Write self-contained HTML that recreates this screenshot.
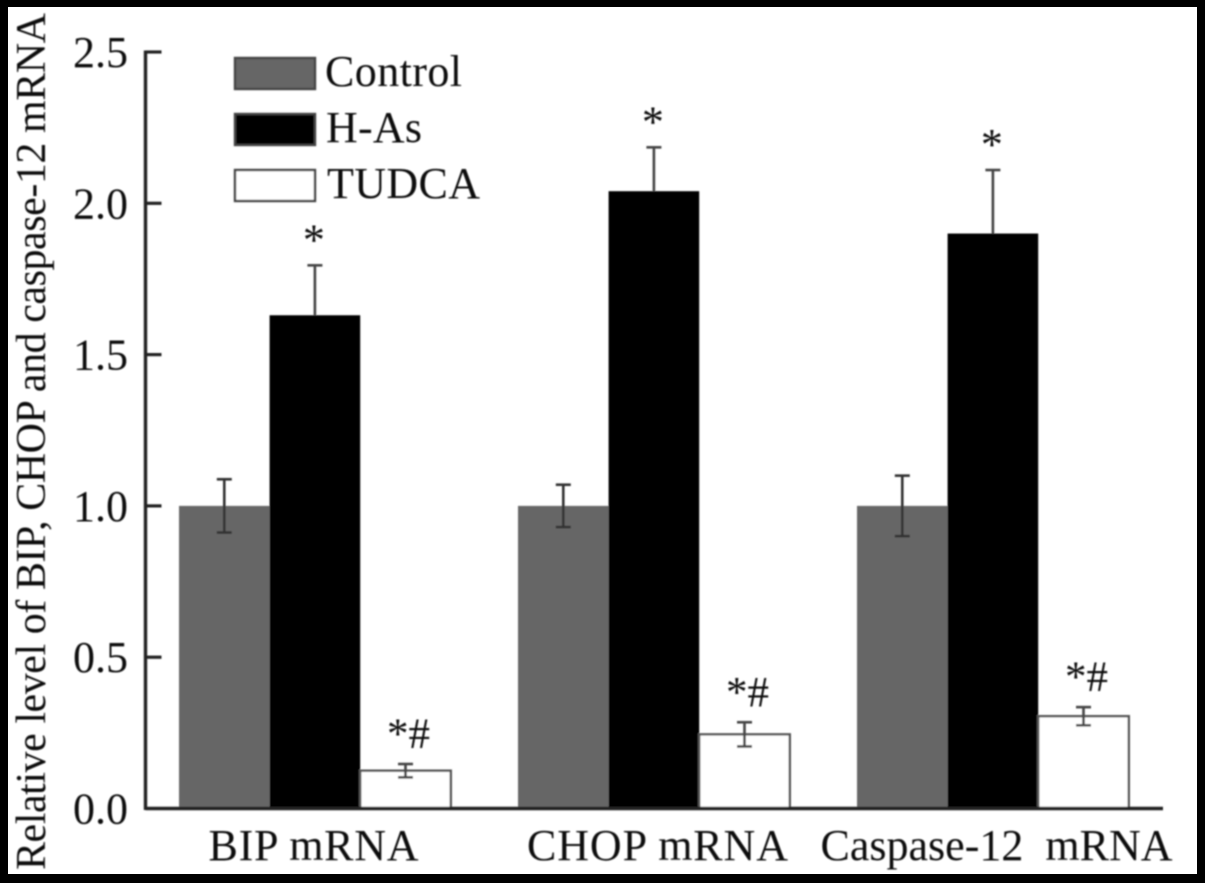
<!DOCTYPE html>
<html>
<head>
<meta charset="utf-8">
<style>
html,body{margin:0;padding:0;background:#000;width:1205px;height:883px;overflow:hidden}
svg{display:block}
text{font-family:"Liberation Serif",serif;fill:#111}
</style>
</head>
<body>
<svg id="chart" xmlns="http://www.w3.org/2000/svg" width="1205" height="883" viewBox="0 0 1205 883">
  <defs><filter id="soft" x="-2%" y="-2%" width="104%" height="104%"><feGaussianBlur stdDeviation="0.7"/></filter></defs>
  <rect x="0" y="0" width="1205" height="883" fill="#000"/>
  <rect x="8" y="7" width="1189" height="867" fill="#fff"/>
  <g id="root" filter="url(#soft)"></g>
</svg>
<script>
const categories = ['BIP mRNA', 'CHOP mRNA', 'Caspase-12  mRNA'];
const seriesNames = ['Control', 'H-As', 'TUDCA'];
const controlValues = [1.0, 1.0, 1.0];
const controlErrors = [0.088, 0.07, 0.10];
const hasValues = [1.63, 2.04, 1.90];
const hasErrors = [0.165, 0.145, 0.21];
const tudcaValues = [0.125, 0.245, 0.305];
const tudcaErrors = [0.022, 0.04, 0.03];
const yTicks = [0, 0.5, 1.0, 1.5, 2.0, 2.5];
const yTickLabels = ['0.0', '0.5', '1.0', '1.5', '2.0', '2.5'];
const hasMarks = ['*', '*', '*'];
const tudcaMarks = ['*#', '*#', '*#'];

const NS = 'http://www.w3.org/2000/svg';
const root = document.getElementById('root');
const y0 = 808.5, yPerUnit = 302.6;
const axisLeft = 145.5, axisRight = 1163;
const groupStart = 179, groupStep = 339, barWidth = 90.6;
const y = v => y0 - v * yPerUnit;
const barX = (g, s) => groupStart + g * groupStep + s * barWidth;

function make(tag, attrs, text) {
  const el = document.createElementNS(NS, tag);
  for (const k in attrs) el.setAttribute(k, attrs[k]);
  if (text !== undefined) el.textContent = text;
  root.appendChild(el);
  return el;
}

const series = [
  { key: 'control', values: controlValues, errors: controlErrors, fill: '#666666', stroke: 'none', err: '#333' },
  { key: 'h-as', values: hasValues, errors: hasErrors, fill: '#000000', stroke: 'none', err: '#444' },
  { key: 'tudca', values: tudcaValues, errors: tudcaErrors, fill: '#ffffff', stroke: '#555', err: '#444' }
];

series.forEach((s, si) => {
  s.values.forEach((v, g) => {
    const x = barX(g, si);
    const bar = make('rect', {
      x: x, y: y(v), width: barWidth, height: y0 - y(v),
      fill: s.fill, stroke: s.stroke, 'stroke-width': si === 2 ? 2.4 : 0
    });
    
    
  });
});

series.forEach((s, si) => {
  s.values.forEach((v, g) => {
    const cx = barX(g, si) + barWidth / 2;
    const e = s.errors[g];
    const stem = make('line', { x1: cx, x2: cx, y1: y(v + e), y2: y(si === 1 ? v : v - e), stroke: s.err, 'stroke-width': 2.6 });
    
    
    const capTop = make('line', { x1: cx - 7.5, x2: cx + 7.5, y1: y(v + e), y2: y(v + e), stroke: s.err, 'stroke-width': 2.6 });
    
    
    if (si !== 1) {
      const capBottom = make('line', { x1: cx - 7.5, x2: cx + 7.5, y1: y(v - e), y2: y(v - e), stroke: s.err, 'stroke-width': 2.6 });
      
      
    }
  });
});

hasValues.forEach((v, g) => {
  const t = make('text', { x: barX(g, 1) + barWidth / 2 - 1, y: y(v + hasErrors[g]) - 11, 'text-anchor': 'middle', 'font-size': 44 }, hasMarks[g]);
  
  
});
tudcaValues.forEach((v, g) => {
  const t = make('text', { x: barX(g, 2) + barWidth / 2 + 3, y: y(v + tudcaErrors[g]) - 16, 'text-anchor': 'middle', 'font-size': 43 }, tudcaMarks[g]);
  
  
});

const yAxis = make('line', { x1: axisLeft, x2: axisLeft, y1: y(2.5) - 1.5, y2: y0 + 1.5, stroke: '#222', 'stroke-width': 3.4 });


const xAxis = make('line', { x1: axisLeft, x2: axisRight, y1: y0, y2: y0, stroke: '#222', 'stroke-width': 3.4 });



yTicks.forEach((v, i) => {
  if (v > 0) {
    const tick = make('line', { x1: axisLeft, x2: axisLeft + 16, y1: y(v), y2: y(v), stroke: '#222', 'stroke-width': 3.2 });
    
    
  }
  const label = make('text', { x: 128, y: y(v) + 15, 'text-anchor': 'end', 'font-size': 44 }, yTickLabels[i]);
  
  
});

const catCenters = [313.5, 657.5, 996.5];
const catLengths = [210, 261, 352];
categories.forEach((c, g) => {
  const t = make('text', {
    x: catCenters[g], y: 860, 'text-anchor': 'middle', 'font-size': 44,
    textLength: catLengths[g], lengthAdjust: 'spacing', 'xml:space': 'preserve'
  }, c);
  t.setAttribute('style', 'white-space:pre');
  
  
});

const yTitle = make('text', {
  transform: 'translate(45,870) rotate(-90)', x: 0, y: 0, 'font-size': 42,
  textLength: 857, lengthAdjust: 'spacing'
}, 'Relative level of BIP, CHOP and caspase-12 mRNA');



const legendFills = ['#666666', '#000000', '#ffffff'];
const legendTops = [58, 114, 170];
const legendTextX = [325, 326, 327];
const legendLengths = [137, 96, 153];
seriesNames.forEach((n, i) => {
  const sw = make('rect', { x: 235, y: legendTops[i], width: 80, height: 31, fill: legendFills[i], stroke: '#444', 'stroke-width': 2.4 });
  
  
  const t = make('text', { x: legendTextX[i], y: legendTops[i] + 28, 'font-size': 44, textLength: legendLengths[i], lengthAdjust: 'spacing' }, n);
  
  
});
</script>
</body>
</html>
